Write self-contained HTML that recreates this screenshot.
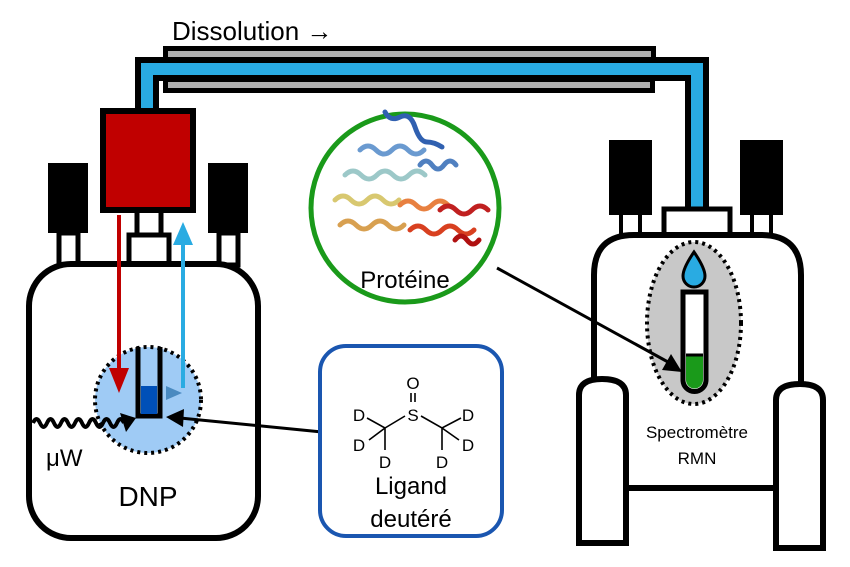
<!DOCTYPE html>
<html><head><meta charset="utf-8"><style>
body{margin:0;background:#fff}
svg{display:block;font-family:"Liberation Sans",sans-serif}
</style></head><body>
<svg width="850" height="567" viewBox="0 0 850 567" xmlns="http://www.w3.org/2000/svg">
<defs>
<linearGradient id="g" x1="0" x2="1"><stop offset="0" stop-color="#c00000"/><stop offset="1" stop-color="#4a9ad8"/></linearGradient>
</defs>
<text x="172" y="40" font-size="26">Dissolution →</text>
<!-- pipe -->
<rect x="163" y="46" width="493" height="16" fill="#000"/>
<rect x="168" y="51" width="483" height="6" fill="#b0b0b0"/>
<path d="M147 215 V69 H697 V212" fill="none" stroke="#000" stroke-width="24"/>
<path d="M147 215 V69 H697 V212" fill="none" stroke="#29abe2" stroke-width="12"/>
<rect x="163" y="77" width="492" height="16" fill="#000"/>
<rect x="168" y="82" width="482" height="6" fill="#b0b0b0"/>
<!-- DNP -->
<rect x="48" y="163" width="40" height="70" fill="#000"/>
<rect x="208" y="163" width="40" height="70" fill="#000"/>
<rect x="59" y="233" width="19" height="32" fill="#fff" stroke="#000" stroke-width="5"/>
<rect x="219" y="233" width="19" height="32" fill="#fff" stroke="#000" stroke-width="5"/>
<rect x="137" y="205" width="24" height="32" fill="#fff" stroke="#000" stroke-width="5"/>
<rect x="129" y="235" width="40" height="30" fill="#fff" stroke="#000" stroke-width="5"/>
<rect x="103" y="111" width="90" height="99" fill="#c00000" stroke="#000" stroke-width="6"/>
<rect x="29" y="264" width="229" height="274" rx="42" fill="#fff" stroke="#000" stroke-width="6"/>
<circle cx="148" cy="400" r="53" fill="#9fcbf5" stroke="#000" stroke-width="4" stroke-dasharray="3 4"/>
<path d="M138 347 V416 H160 V347" fill="none" stroke="#000" stroke-width="5"/>
<rect x="141" y="386" width="16" height="28" fill="#0050b8"/>
<line x1="119" y1="215" x2="119" y2="372" stroke="#c00000" stroke-width="4"/>
<polygon points="109,368 129,368 119,393" fill="#c00000"/>
<line x1="183" y1="388" x2="183" y2="240" stroke="#29abe2" stroke-width="4"/>
<polygon points="173,245 193,245 183,222" fill="#29abe2"/>
<line x1="122" y1="393" x2="168" y2="393" stroke="url(#g)" stroke-width="4"/>
<polygon points="166,386 182,393 166,400" fill="#4a8ac0"/>
<path d="M33 423 q3.5 -8 7 0 t7 0 t7 0 t7 0 t7 0 t7 0 t7 0 t7 0 t7 0 t7 0 t7 0 t7 0 t7 0" fill="none" stroke="#000" stroke-width="4"/>
<polygon points="120,413 136,418 126,432" fill="#000"/>
<text x="46" y="466" font-size="24">μW</text>
<text x="148" y="506" font-size="28" text-anchor="middle">DNP</text>
<line x1="322" y1="432" x2="180" y2="418" stroke="#000" stroke-width="3"/>
<polygon points="166,417 184,409 183,427" fill="#000"/>
<!-- ligand box -->
<rect x="320" y="346" width="182" height="190" rx="26" fill="#fff" stroke="#1a56b0" stroke-width="4"/>
<g font-size="17" text-anchor="middle">
<text x="413" y="389">O</text><text x="413" y="421">S</text>
<text x="359" y="421">D</text><text x="359" y="451">D</text><text x="385" y="468">D</text>
<text x="468" y="421">D</text><text x="468" y="451">D</text><text x="442" y="468">D</text>
</g>
<g stroke="#000" stroke-width="1.6" fill="none">
<line x1="411" y1="393" x2="411" y2="402"/><line x1="415" y1="393" x2="415" y2="402"/>
<path d="M405 416 L385 428 L367 418 M385 428 L369 440 M385 428 V450"/>
<path d="M421 416 L442 428 L461 418 M442 428 L459 440 M442 428 V450"/>
</g>
<text x="411" y="494" font-size="24" text-anchor="middle">Ligand</text>
<text x="411" y="527" font-size="24" text-anchor="middle">deutéré</text>
<!-- protein -->
<circle cx="405" cy="208" r="94" fill="#fff" stroke="#1a9a1a" stroke-width="5"/>
<g fill="none" stroke-width="5" stroke-linecap="round">
<path d="M385 112 q5 10 15 5 t15 10 t12 15 t15 5" stroke="#3060b0"/>
<path d="M360 150 q8 -8 16 0 t16 0 t16 0 t16 0" stroke="#6a9ad0"/>
<path d="M345 175 q8 -8 16 0 t16 0 t16 0 t16 0 t16 0" stroke="#9cc8c8"/>
<path d="M420 165 q6 -8 12 0 t12 0 t12 0" stroke="#5080c0"/>
<path d="M335 200 q8 -8 16 0 t16 0 t16 0 t16 0" stroke="#d8c870"/>
<path d="M340 225 q8 -8 16 0 t16 0 t16 0 t16 0" stroke="#d8a050"/>
<path d="M400 205 q8 -8 16 0 t16 0 t16 0" stroke="#e88040"/>
<path d="M410 230 q8 -8 16 0 t16 0 t16 0 t16 0" stroke="#d84020"/>
<path d="M440 210 q8 -8 16 0 t16 0 t16 0" stroke="#c02020"/>
<path d="M455 240 q6 -8 12 0 t12 0" stroke="#b01010"/>
</g>
<text x="405" y="288" font-size="24" text-anchor="middle">Protéine</text>
<!-- NMR -->
<rect x="609" y="140" width="43" height="75" fill="#000"/>
<rect x="740" y="140" width="43" height="75" fill="#000"/>
<rect x="621" y="213" width="19" height="24" fill="#fff" stroke="#000" stroke-width="4"/>
<rect x="752" y="213" width="19" height="24" fill="#fff" stroke="#000" stroke-width="4"/>
<rect x="664" y="209" width="66" height="26" fill="#fff" stroke="#000" stroke-width="5"/>
<path d="M594 488 V275 Q594 235 634 235 H761 Q801 235 801 275 V488 Z" fill="#fff" stroke="#000" stroke-width="6"/>
<path d="M579 543 V395 Q579 379 602 379 Q626 379 626 395 V543 Z" fill="#fff" stroke="#000" stroke-width="6"/>
<path d="M776 548 V400 Q776 384 800 384 Q823 384 823 400 V548 Z" fill="#fff" stroke="#000" stroke-width="6"/>
<ellipse cx="694" cy="323" rx="47" ry="81" fill="#c8c8c8" stroke="#000" stroke-width="4" stroke-dasharray="3 4"/>
<path d="M694 252 Q683 268 683 276 A11 11 0 0 0 705 276 Q705 268 694 252 Z" fill="#29abe2" stroke="#000" stroke-width="3"/>
<path d="M683 292 H706 V380 A11.5 11.5 0 0 1 683 380 Z" fill="#fff" stroke="#000" stroke-width="5"/>
<path d="M686 355 H703 V380 A8.5 8.5 0 0 1 686 380 Z" fill="#1a9a1a"/>
<line x1="686" y1="355" x2="703" y2="355" stroke="#000" stroke-width="3"/>
<text x="697" y="438" font-size="17" text-anchor="middle">Spectromètre</text>
<text x="697" y="464" font-size="17" text-anchor="middle">RMN</text>
<line x1="497" y1="268" x2="668" y2="362" stroke="#000" stroke-width="3"/>
<polygon points="682,372 662,370 671,354" fill="#000"/>
</svg>
</body></html>
